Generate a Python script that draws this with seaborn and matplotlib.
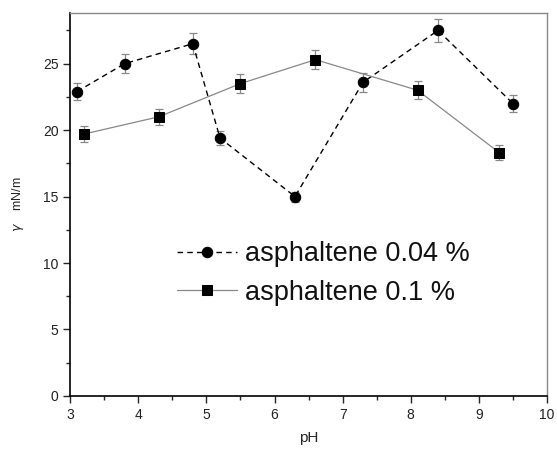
import matplotlib
matplotlib.use("Agg")
import matplotlib.pyplot as plt
import seaborn as sns
from matplotlib.ticker import MultipleLocator

# datos
ph_004 = [3.1, 3.8, 4.8, 5.2, 6.3, 7.3, 8.4, 9.5]
gamma_004 = [22.9, 25.0, 26.5, 19.4, 15.0, 23.6, 27.5, 22.0]
err_004 = [0.64, 0.74, 0.79, 0.54, 0.38, 0.70, 0.84, 0.65]

ph_01 = [3.2, 4.3, 5.5, 6.6, 8.1, 9.3]
gamma_01 = [19.7, 21.0, 23.5, 25.3, 23.0, 18.3]
err_01 = [0.60, 0.60, 0.69, 0.73, 0.69, 0.55]

sns.set_style("ticks")
plt.rcParams["font.family"] = ["Liberation Sans", "DejaVu Sans"]

fig = plt.figure(figsize=(5.57, 4.53), dpi=100)
ax = fig.add_axes([0.126, 0.126, 0.856, 0.845])

# barras de error
ax.errorbar(ph_004, gamma_004, yerr=err_004, fmt="none", ecolor="#888888",
            elinewidth=0.9, capsize=3, capthick=0.9, zorder=2)
ax.errorbar(ph_01, gamma_01, yerr=err_01, fmt="none", ecolor="#888888",
            elinewidth=0.9, capsize=3, capthick=0.9, zorder=2)

sns.lineplot(x=ph_004, y=gamma_004, ax=ax, color="black", linestyle=(0, (4, 3)),
             linewidth=1.0, marker="o", markersize=7.5, markeredgecolor="black",
             label="asphaltene 0.04 %", zorder=3)
sns.lineplot(x=ph_01, y=gamma_01, ax=ax, color="#888888", linestyle="-",
             linewidth=0.9, marker="s", markersize=6.5, markerfacecolor="black",
             markeredgecolor="black", label="asphaltene 0.1 %", zorder=3)

ax.set_xlim(3, 10)
ax.set_ylim(0, 28.8)
ax.xaxis.set_major_locator(MultipleLocator(1))
ax.xaxis.set_minor_locator(MultipleLocator(0.5))
ax.yaxis.set_major_locator(MultipleLocator(5))
ax.yaxis.set_minor_locator(MultipleLocator(2.5))
ax.tick_params(which="major", direction="out", length=5, width=1, labelsize=10,
               labelcolor="#222222")
ax.tick_params(which="minor", direction="out", length=3, width=1)

for side in ["left", "bottom"]:
    ax.spines[side].set_color("black")
    ax.spines[side].set_linewidth(1.2)
for side in ["top", "right"]:
    ax.spines[side].set_visible(True)
    ax.spines[side].set_color("#888888")
    ax.spines[side].set_linewidth(1.0)

ax.set_xlabel("pH", fontsize=11, labelpad=7)
ax.set_ylabel("$\\gamma$    mN/m", fontsize=9, labelpad=12)

leg = ax.legend(loc="center left", bbox_to_anchor=(0.224, 0.32), frameon=False,
                fontsize=19.5, handlelength=2.2, handletextpad=0.3,
                labelspacing=0.45, borderpad=0, borderaxespad=0)
for t in leg.get_texts():
    t.set_color("#111111")

fig.savefig("out.png", dpi=100)
